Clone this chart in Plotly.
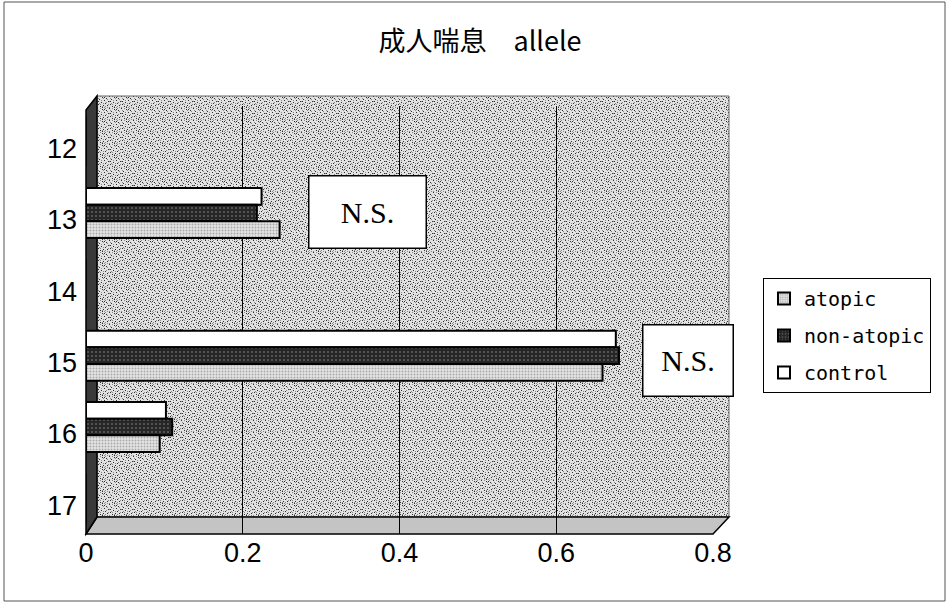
import base64
import plotly.graph_objects as go

# allele frequencies per group
alleles = ["12", "13", "14", "15", "16", "17"]
atopic = [0, 0.247, 0, 0.659, 0.094, 0]
non_atopic = [0, 0.218, 0, 0.680, 0.110, 0]
control = [0, 0.224, 0, 0.676, 0.102, 0]
x_ticks = [0, 0.2, 0.4, 0.6, 0.8]
x_ticklabels = ["0", "0.2", "0.4", "0.6", "0.8"]

W, H = 948, 605
L, R, T, B = 86, 713, 106, 534  # plot area edges in pixels


def px(x):
    return (x - L) / (R - L)


def py(y):
    return (B - y) / (B - T)


# stippled texture for the back wall
dots_dark = [(0, 0), (5, 1), (9, 2), (2, 3), (7, 4), (11, 5), (4, 6), (1, 8), (8, 7), (10, 9), (6, 9), (3, 10),
             (7, 1), (1, 5), (5, 11)]
dots_mid = [(3, 0), (8, 0), (1, 2), (6, 2), (10, 3), (4, 4), (0, 5), (9, 6), (2, 7), (6, 7), (11, 8), (5, 10),
            (8, 10), (0, 11), (7, 11), (3, 8), (10, 11)]
tile = "".join(f"<rect x='{x}' y='{y}' width='1' height='1' fill='#303030'/>" for x, y in dots_dark)
tile += "".join(f"<rect x='{x}' y='{y}' width='1' height='1' fill='#8a8a8a'/>" for x, y in dots_mid)
wall_w, wall_h = 632, 421
svg = (f"<svg xmlns='http://www.w3.org/2000/svg' width='{wall_w}' height='{wall_h}' shape-rendering='crispEdges'>"
       "<defs><pattern id='p' width='12' height='12' patternUnits='userSpaceOnUse'>"
       f"<rect width='12' height='12' fill='#e2e2e2'/>{tile}</pattern></defs>"
       "<rect width='100%' height='100%' fill='url(#p)'/></svg>")
wall_src = "data:image/svg+xml;base64," + base64.b64encode(svg.encode()).decode()

fig = go.Figure()

# drawn top-to-bottom within each allele: control, non-atopic, atopic
fig.add_trace(go.Bar(
    y=alleles, x=control, orientation="h", name="control",
    legendrank=3, legendgroup="control",
    marker=dict(color="white", line=dict(color="black", width=2)),
))
fig.add_trace(go.Bar(
    y=alleles, x=non_atopic, orientation="h", name="non-atopic",
    legendrank=2, legendgroup="non-atopic",
    marker=dict(color="#262626", line=dict(color="black", width=2),
                pattern=dict(shape=".", bgcolor="#262626", fgcolor="#9a9a9a",
                             size=4, solidity=0.2)),
))
fig.add_trace(go.Bar(
    y=alleles, x=atopic, orientation="h", name="atopic",
    legendrank=1, legendgroup="atopic",
    marker=dict(color="#e2e2e2", line=dict(color="black", width=2),
                pattern=dict(shape=".", bgcolor="#e4e4e4", fgcolor="#6e6e6e",
                             size=3, solidity=0.35)),
))

shapes = [
    # outer chart border
    dict(type="rect", xref="paper", yref="paper",
         x0=px(4), x1=px(945), y0=py(601), y1=py(2),
         line=dict(color="#555555", width=1), fillcolor="rgba(0,0,0,0)", layer="below"),
    # back wall outline
    dict(type="rect", xref="paper", yref="paper",
         x0=px(97), x1=px(729), y0=py(517), y1=py(96),
         line=dict(color="#666666", width=1), fillcolor="rgba(0,0,0,0)", layer="below"),
    # floor
    dict(type="path", xref="paper", yref="paper",
         path=f"M {px(86)},{py(534)} L {px(97)},{py(517)} L {px(729)},{py(517)} "
              f"L {px(713)},{py(534)} Z",
         line=dict(color="black", width=1.5), fillcolor="#c4c4c4", layer="below"),
    # left wall
    dict(type="path", xref="paper", yref="paper",
         path=f"M {px(86)},{py(110)} L {px(97)},{py(96)} L {px(97)},{py(517)} "
              f"L {px(86)},{py(534)} Z",
         line=dict(color="black", width=1.5), fillcolor="#3a3a3a", layer="below"),
]

images = [
    dict(source=wall_src, xref="paper", yref="paper",
         x=px(97), y=py(96), sizex=px(729) - px(97), sizey=py(96) - py(517),
         xanchor="left", yanchor="top", sizing="stretch", layer="below"),
]

ns_font = dict(family="Liberation Serif", size=30, color="black")
annotations = [
    dict(text="N.S.", xref="paper", yref="paper", x=px(367), y=py(212),
         xanchor="center", yanchor="middle",
         showarrow=False, width=116, height=71, borderpad=0,
         bgcolor="white", bordercolor="black", borderwidth=1.5, font=ns_font),
    dict(text="N.S.", xref="paper", yref="paper", x=px(688), y=py(360),
         xanchor="center", yanchor="middle",
         showarrow=False, width=89, height=70, borderpad=0,
         bgcolor="white", bordercolor="black", borderwidth=1.5, font=ns_font),
]

fig.update_layout(
    width=W, height=H,
    margin=dict(l=L, r=W - R, t=T, b=H - B),
    paper_bgcolor="white",
    plot_bgcolor="rgba(0,0,0,0)",
    barmode="group", bargap=0.3, bargroupgap=0,
    title=dict(text="成人喘息　allele", x=480 / W, xanchor="center",
               y=1 - 42 / H, yanchor="middle",
               font=dict(family="Noto Sans CJK JP", size=27, color="black")),
    legend=dict(x=px(763), y=py(278), xanchor="left", yanchor="top",
                traceorder="grouped", tracegroupgap=8,
                bgcolor="white", bordercolor="black", borderwidth=1,
                font=dict(family="DejaVu Sans Mono, Noto Sans CJK JP", size=20, color="black")),
    shapes=shapes,
    images=images,
    annotations=annotations,
    showlegend=True,
)

fig.update_xaxes(
    range=[0, 0.8], tickvals=x_ticks, ticktext=x_ticklabels,
    showgrid=True, gridcolor="black", gridwidth=1, zeroline=False,
    showline=False, ticks="", layer="above traces",
    tickfont=dict(family="Liberation Sans", size=27, color="black"),
)
fig.update_yaxes(
    autorange="reversed", showgrid=False, zeroline=False, showline=False, ticks="",
    ticklabelstandoff=8, ticklabelshift=-7,
    tickfont=dict(family="Liberation Sans", size=27, color="black"),
)

fig.write_html("out.html")
